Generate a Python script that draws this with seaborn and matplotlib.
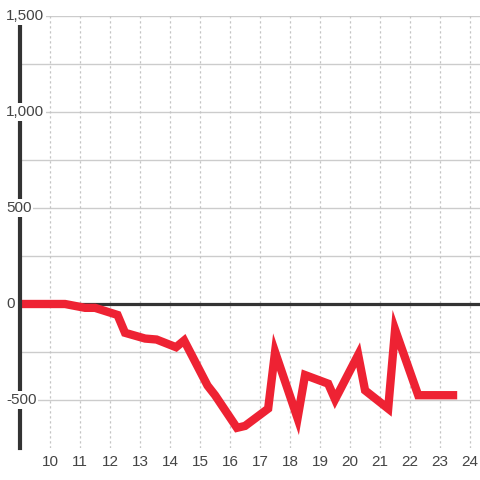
import pandas as pd
import matplotlib
matplotlib.use("Agg")
import matplotlib.pyplot as plt
import matplotlib.transforms as mtransforms
import seaborn as sns

# valores
hora = [9.0, 10.5, 11.17, 11.5, 12.25, 12.5, 13.17, 13.55, 14.2, 14.47,
        15.25, 15.5, 16.23, 16.5, 17.27, 17.5, 18.25, 18.5, 19.27, 19.5,
        20.27, 20.5, 21.27, 21.5, 22.27, 23.57]
valor = [0, 0, -20, -20, -57, -150, -180, -185, -225, -190,
         -425, -475, -645, -635, -545, -250, -595, -370, -415, -497,
         -265, -450, -545, -133, -475, -475]
xticks = list(range(10, 25))
yticks = [-500, 0, 500, 1000, 1500]
ylabels = ["-500", "0", "500", "1,000", "1,500"]
ygrid = [-250, 250, 750, 1250]

df = pd.DataFrame({"hora": hora, "valor": valor})

sns.set_theme(style="white")
plt.rcParams["font.family"] = ["Liberation Sans", "DejaVu Sans"]

fig = plt.figure(figsize=(4.8, 4.8), dpi=100)
ax = fig.add_axes([20 / 480, 32 / 480, 460 / 480, 432 / 480])

# grade
for y in yticks + ygrid:
    ax.axhline(y, color="#cccccc", lw=1, zorder=0)
for x in xticks:
    ax.axvline(x, color="#c4c4c4", lw=0.9, ls=(0, (1.8, 2.2)), zorder=0)

ax.axhline(0, color="#333333", lw=2.3, zorder=1)

sns.lineplot(data=df, x="hora", y="valor", color="#ee2233", linewidth=6,
             ax=ax, zorder=2, solid_capstyle="butt", solid_joinstyle="miter")

ax.set_xlim(9, 24.33)
ax.set_ylim(-750, 1500)

for s in ["top", "right", "bottom"]:
    ax.spines[s].set_visible(False)
ax.spines["left"].set_color("#333333")
ax.spines["left"].set_linewidth(3)
ax.spines["left"].set_zorder(3)

ax.set_xticks(xticks)
ax.set_xticklabels([str(t) for t in xticks], fontsize=11, color="#444444")
ax.tick_params(axis="x", length=0, pad=5)
ax.set_yticks([])
ax.set_xlabel("")
ax.set_ylabel("")

# rótulos do eixo y sobre a linha do eixo
trans = mtransforms.offset_copy(ax.get_yaxis_transform(), fig=fig, x=-14, y=0, units="dots")
for y, lab in zip(yticks, ylabels):
    ax.text(0, y, lab, transform=trans, ha="left", va="center", fontsize=11,
            color="#444444", zorder=5,
            bbox=dict(facecolor="white", edgecolor="none", pad=1.2))

fig.savefig("out.png", dpi=100, facecolor="white")
plt.close()
